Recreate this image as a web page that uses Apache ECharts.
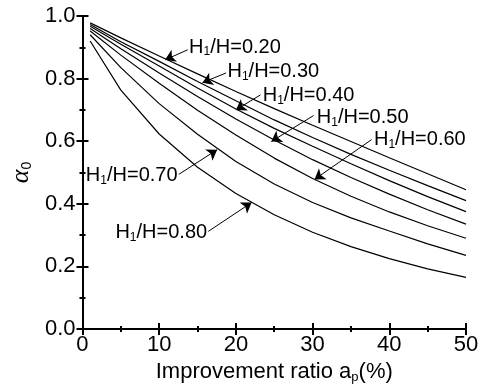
<!DOCTYPE html>
<html>
<head>
<meta charset="utf-8">
<script src="https://cdn.jsdelivr.net/npm/echarts@6/dist/echarts.min.js"></script>
<style>
  html, body { margin: 0; padding: 0; background: #fff; }
  #chart { width: 484px; height: 389px; }
</style>
</head>
<body>
<div id="chart"></div>
<script>
// improvement ratio ap (%)
const ratios = [1, 5, 10, 15, 20, 25, 30, 35, 40, 45, 50];

// alpha_0 for each H1/H
const ratioNames = ['0.20', '0.30', '0.40', '0.50', '0.60', '0.70', '0.80'];
const h020 = [0.978, 0.930, 0.872, 0.815, 0.759, 0.704, 0.651, 0.599, 0.547, 0.496, 0.445];
const h030 = [0.973, 0.918, 0.855, 0.791, 0.729, 0.668, 0.612, 0.558, 0.507, 0.458, 0.410];
const h040 = [0.967, 0.910, 0.840, 0.770, 0.703, 0.641, 0.584, 0.528, 0.474, 0.423, 0.375];
const h050 = [0.960, 0.895, 0.818, 0.743, 0.671, 0.604, 0.541, 0.484, 0.431, 0.381, 0.335];
const h060 = [0.952, 0.875, 0.785, 0.699, 0.620, 0.546, 0.481, 0.424, 0.374, 0.330, 0.290];
const h070 = [0.940, 0.835, 0.720, 0.622, 0.535, 0.463, 0.404, 0.355, 0.313, 0.272, 0.235];
const h080 = [0.920, 0.763, 0.623, 0.517, 0.433, 0.365, 0.309, 0.263, 0.225, 0.192, 0.165];
const curves = [h020, h030, h040, h050, h060, h070, h080];

const xTicks = [0, 10, 20, 30, 40, 50];
const yTicks = [0, 0.2, 0.4, 0.6, 0.8, 1.0];

// labels + arrows, in data units: text anchor, arrow start, arrow tip
const notes = [
  {text: [13.90, 0.901], from: [13.72, 0.892], to: [10.77, 0.860], side: 'right', bend: 0},
  {text: [18.90, 0.822], from: [18.72, 0.818], to: [15.64, 0.787], side: 'right', bend: 0},
  {text: [23.50, 0.745], from: [23.21, 0.748], to: [20.00, 0.700], side: 'right', bend: 0},
  {text: [30.55, 0.675], from: [30.13, 0.682], to: [24.62, 0.599], side: 'right', bend: 0},
  {text: [38.00, 0.605], from: [37.69, 0.605], to: [30.26, 0.478], side: 'right', bend: 0},
  {text: [12.40, 0.490], from: [12.56, 0.494], to: [17.56, 0.573], side: 'left', bend: -0.12},
  {text: [16.25, 0.309], from: [16.41, 0.312], to: [22.05, 0.404], side: 'left', bend: 0.1}
];

const FONT = 'Liberation Sans';
const labelRich = {
  t: {fontSize: 20, lineHeight: 22, color: '#000', fontFamily: FONT},
  s: {fontSize: 12, lineHeight: 8, verticalAlign: 'bottom', color: '#000', fontFamily: FONT}
};

const series = curves.map((vals, i) => {
  const n = notes[i];
  return {
    name: ratioNames[i],
    type: 'line',
    data: ratios.map((r, j) => [r, vals[j]]),
    showSymbol: false,
    symbol: 'none',
    lineStyle: {color: '#000', width: 1.2},
    animation: false,
    silent: true,
    markLine: {
      silent: true,
      animation: false,
      symbol: ['none', 'arrow'],
      symbolSize: 10,
      label: {show: false},
      itemStyle: {color: '#000'},
      lineStyle: {color: '#000', width: 1, type: 'solid', curveness: n.bend},
      data: [[{coord: n.from}, {coord: n.to}]]
    },
    markPoint: {
      silent: true,
      animation: false,
      symbol: 'circle',
      symbolSize: 0,
      label: {
        show: true,
        position: n.side,
        distance: 0,
        formatter: '{t|H}{s|1}{t|/H=' + ratioNames[i] + '}',
        rich: labelRich
      },
      data: [{coord: n.text}]
    }
  };
});

const frame = {lineStyle: {color: '#000', width: 2}};
const tick = {inside: true, length: 6, lineStyle: {color: '#000', width: 2}};
const minor = {show: true, splitNumber: 2, length: 3, lineStyle: {color: '#000', width: 2}};

const option = {
  backgroundColor: '#fff',
  animation: false,
  grid: {left: 76, right: 18, top: 16, bottom: 59, containLabel: false},
  xAxis: [{
    type: 'value', min: 0, max: 50, interval: 10,
    name: '{n|Improvement ratio a}{s|p}{n|(%)}',
    nameLocation: 'middle', nameGap: 31,
    nameTextStyle: {
      rich: {
        n: {fontSize: 22, lineHeight: 24, color: '#000', fontFamily: FONT},
        s: {fontSize: 13, lineHeight: 8, verticalAlign: 'bottom', color: '#000', fontFamily: FONT}
      }
    },
    axisLine: frame, axisTick: tick, minorTick: minor,
    splitLine: {show: false},
    axisLabel: {
      fontSize: 22, color: '#000', fontFamily: FONT, margin: 5,
      formatter: v => xTicks.includes(v) ? String(v) : ''
    }
  }, {
    type: 'value', min: 0, max: 50, interval: 10, position: 'top',
    axisLine: frame, axisTick: tick, minorTick: minor,
    splitLine: {show: false}, axisLabel: {show: false}
  }],
  yAxis: [{
    type: 'value', min: 0, max: 1, interval: 0.2,
    name: '{a|α}{s|0}',
    nameLocation: 'middle', nameGap: 46, nameRotate: 90,
    nameTextStyle: {
      rich: {
        a: {fontSize: 26, lineHeight: 26, color: '#000', fontFamily: 'Liberation Serif', fontStyle: 'italic'},
        s: {fontSize: 14, lineHeight: 8, verticalAlign: 'bottom', color: '#000', fontFamily: FONT}
      }
    },
    axisLine: frame, axisTick: tick, minorTick: minor,
    splitLine: {show: false},
    axisLabel: {
      fontSize: 22, color: '#000', fontFamily: FONT, margin: 7,
      formatter: v => yTicks.some(t => Math.abs(t - v) < 1e-9) ? v.toFixed(1) : ''
    }
  }, {
    type: 'value', min: 0, max: 1, interval: 0.2, position: 'right',
    axisLine: frame, axisTick: tick, minorTick: minor,
    splitLine: {show: false}, axisLabel: {show: false}
  }],
  series: series
};

const chart = echarts.init(document.getElementById('chart'), null, {renderer: 'canvas'});
chart.setOption(option);
</script>
</body>
</html>
